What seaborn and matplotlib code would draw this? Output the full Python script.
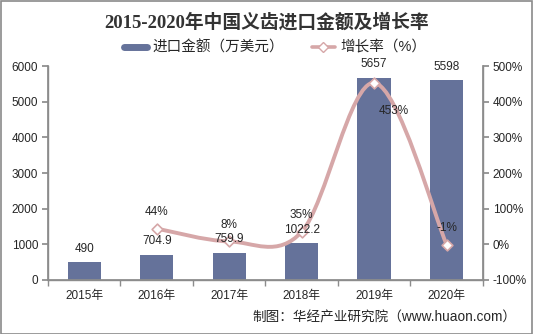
import matplotlib
matplotlib.use("Agg")
import matplotlib.pyplot as plt
import seaborn as sns
import pandas as pd
from matplotlib.path import Path
from matplotlib.patches import PathPatch, Rectangle
from matplotlib.lines import Line2D

years = ["2015年", "2016年", "2017年", "2018年", "2019年", "2020年"]
imports = [490, 704.9, 759.9, 1022.2, 5657, 5598]
import_labels = ["490", "704.9", "759.9", "1022.2", "5657", "5598"]
growth_years = ["2016年", "2017年", "2018年", "2019年", "2020年"]
growth = [44, 8, 35, 453, -1]
growth_labels = ["44%", "8%", "35%", "453%", "-1%"]
left_ticks = [0, 1000, 2000, 3000, 4000, 5000, 6000]
right_ticks = [-100, 0, 100, 200, 300, 400, 500]

title = "2015-2020年中国义齿进口金额及增长率"
bar_name = "进口金额（万美元）"
line_name = "增长率（%）"
source = "制图：华经产业研究院（www.huaon.com）"

sns.set_theme(style="white")
plt.rcParams["font.family"] = ["Liberation Sans", "Noto Sans CJK SC", "DejaVu Sans"]

BAR = "#65729A"
LINE = "#D6A7A8"
GREY = "#8C8C8C"
TXT = "#262626"

fig = plt.figure(figsize=(5.33, 3.34), dpi=100)
ax = fig.add_axes([0.090, 0.162, 0.816, 0.640])

df = pd.DataFrame({"year": years, "value": imports})
sns.barplot(data=df, x="year", y="value", color=BAR, width=0.46, ax=ax,
            saturation=1, edgecolor="none")
ax.set_xlim(-0.5, 5.5)
ax.set_ylim(0, 6000)
ax.set_yticks(left_ticks)
ax.set_yticklabels([str(t) for t in left_ticks])
ax.set_xlabel("")
ax.set_ylabel("")
ax.tick_params(axis="y", left=True, length=4, color=GREY, labelsize=8.5,
               labelcolor=TXT, pad=3)
ax.set_xticks([i - 0.5 for i in range(7)], minor=True)
ax.tick_params(axis="x", which="major", length=0, labelsize=8.5,
               labelcolor=TXT, pad=7)
ax.tick_params(axis="x", which="minor", bottom=True, length=4, color=GREY)
ax.spines["top"].set_visible(False)
for s in ["left", "right", "bottom"]:
    ax.spines[s].set_color(GREY)
    ax.spines[s].set_linewidth(1)

ax2 = ax.twinx()
ax2.set_ylim(-100, 500)
ax2.set_yticks(right_ticks)
ax2.set_yticklabels([f"{t}%" for t in right_ticks])
ax2.tick_params(axis="y", right=True, length=4, color=GREY, labelsize=8.5,
                labelcolor=TXT, pad=3)
ax2.spines["top"].set_visible(False)
for s in ["left", "right", "bottom"]:
    ax2.spines[s].set_color(GREY)
ax2.grid(False)
ax.grid(False)

# smoothed line (Catmull-Rom style Bezier through the data points)
xs = [years.index(y) for y in growth_years]
pts = list(zip(xs, growth))
verts = [pts[0]]
codes = [Path.MOVETO]
n = len(pts)
for i in range(n - 1):
    p0 = pts[i - 1] if i > 0 else pts[i]
    p1 = pts[i]
    p2 = pts[i + 1]
    p3 = pts[i + 2] if i + 2 < n else pts[i + 1]
    c1 = (p1[0] + (p2[0] - p0[0]) / 6, p1[1] + (p2[1] - p0[1]) / 6)
    c2 = (p2[0] - (p3[0] - p1[0]) / 6, p2[1] - (p3[1] - p1[1]) / 6)
    verts += [c1, c2, p2]
    codes += [Path.CURVE4] * 3
ax2.add_patch(PathPatch(Path(verts, codes), facecolor="none", edgecolor=LINE,
                        lw=2.8, zorder=3))
gdf = pd.DataFrame({"x": xs, "g": growth})
sns.scatterplot(data=gdf, x="x", y="g", marker="D", s=30, color="white",
                edgecolor=LINE, linewidth=1.2, ax=ax2, zorder=4)
ax2.set_xlabel("")
ax2.set_ylabel("")

# bar value labels, drawn above the line
for i, (v, lab) in enumerate(zip(imports, import_labels)):
    ax2.annotate(lab, (i, v), xycoords=ax.transData, xytext=(0, 10),
                 textcoords="offset points", ha="center", va="center",
                 fontsize=8.5, color=TXT, zorder=6)

for x, g, lab in zip(xs, growth, growth_labels):
    off = (14, -20) if g > 300 else (0, 12)
    ax2.annotate(lab, (x, g), xytext=off, textcoords="offset points",
                 ha="center", va="center", fontsize=8.5, color=TXT, zorder=6)

fig.text(0.5, 0.934, title, ha="center", va="center", fontsize=13.5,
         fontweight="bold", color="#333333",
         family=["Liberation Serif", "Noto Sans CJK SC"])

handles = [Line2D([], [], color=BAR, lw=5),
           Line2D([], [], color=LINE, lw=2.6, marker="D", markersize=5,
                  markerfacecolor="white", markeredgecolor=LINE)]
fig.legend(handles, [bar_name, line_name], loc="center", ncol=2,
           bbox_to_anchor=(0.516, 0.857), frameon=False, fontsize=10.5,
           handlelength=1.6, columnspacing=1.9, handletextpad=0.35,
           labelcolor=TXT)

fig.text(0.968, 0.048, source, ha="right", va="center", fontsize=9.8,
         color=TXT)

fig.patches.append(Rectangle((0.001, 0.001), 0.997, 0.996,
                             transform=fig.transFigure, fill=False,
                             edgecolor="#8a8a8a", lw=1.2))

fig.savefig("out.png", dpi=100)
